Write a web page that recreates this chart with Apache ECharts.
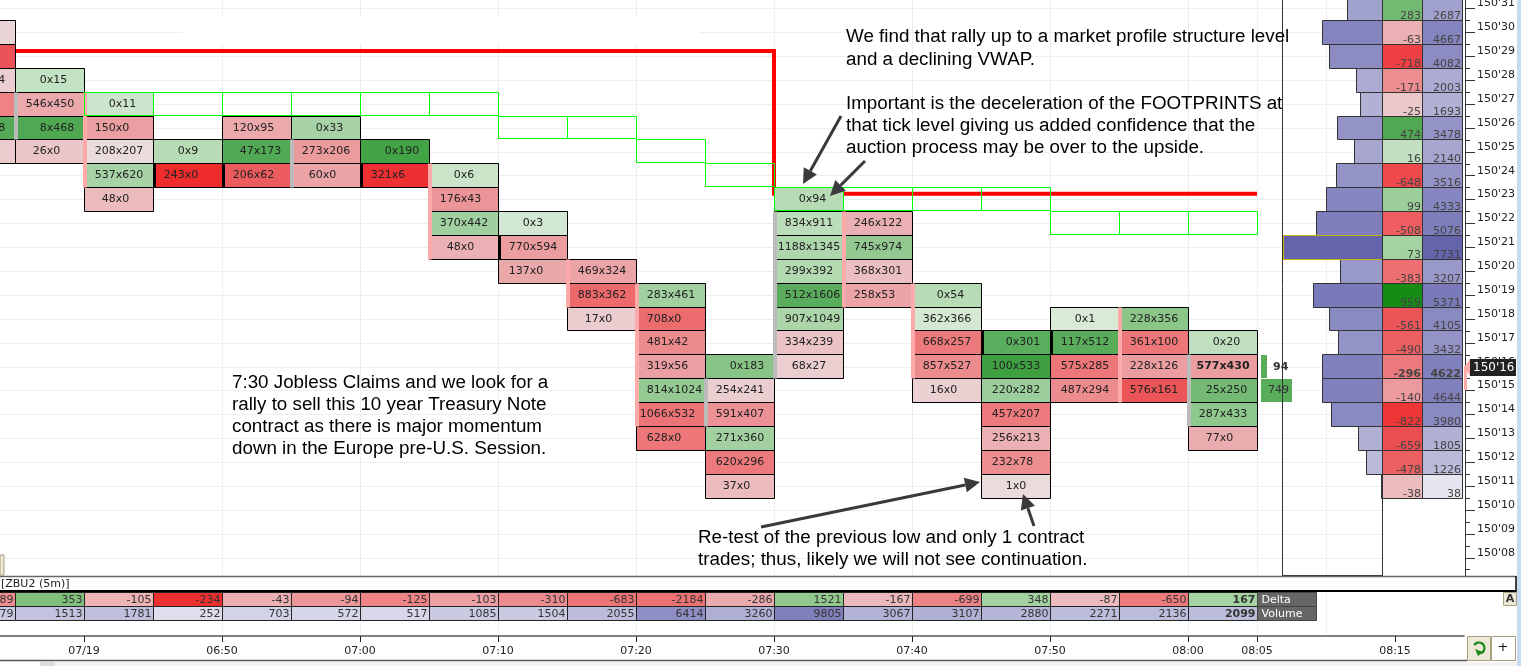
<!DOCTYPE html>
<html>
<head>
<meta charset="utf-8">
<title>ZBU2 footprint</title>
<style>
  html, body { margin: 0; padding: 0; background: #fff; }
  #chart { width: 1521px; height: 666px; }
</style>
</head>
<body>
<div id="chart"></div>
<script src="https://cdn.jsdelivr.net/npm/echarts@6/dist/echarts.min.js"></script>
<script>
// times are minutes after midnight (06:50 = 410), prices are ticks above 150'00
const barEnds = [395, 400, 405, 410, 415, 420, 425, 430, 435, 440, 445, 450, 455, 460, 465, 470, 475, 480, 485]
const barTops = [30, 28, 27, 25, 26, 26, 25, 24, 22, 20, 19, 16, 23, 22, 19, 17, 18, 18, 17]
const barCells = [
  ['0x8', '64x0', '271x194', '412x0', '308x418', '31x0'],
  ['0x15', '546x450', '8x468', '26x0'],
  ['0x11', '150x0', '208x207', '537x620', '48x0'],
  ['0x9', '243x0'],
  ['120x95', '47x173', '206x62'],
  ['0x33', '273x206', '60x0'],
  ['0x190', '321x6'],
  ['0x6', '176x43', '370x442', '48x0'],
  ['0x3', '770x594', '137x0'],
  ['469x324', '883x362', '17x0'],
  ['283x461', '708x0', '481x42', '319x56', '814x1024', '1066x532', '628x0'],
  ['0x183', '254x241', '591x407', '271x360', '620x296', '37x0'],
  ['0x94', '834x911', '1188x1345', '299x392', '512x1606', '907x1049', '334x239', '68x27'],
  ['246x122', '745x974', '368x301', '258x53'],
  ['0x54', '362x366', '668x257', '857x527', '16x0'],
  ['0x301', '100x533', '220x282', '457x207', '256x213', '232x78', '1x0'],
  ['0x1', '117x512', '575x285', '487x294'],
  ['228x356', '361x100', '228x126', '576x161'],
  ['0x20', '577x430', '25x250', '287x433', '77x0'],
]
// candle body of each bar: first and last tick row, and direction
const bodyHigh = [null, 27, 27, 24, 24, 25, 24, 24, 21, 20, 19, 15, 22, 22, 19, 17, 17, 18, 16]
const bodyLow = [null, 26, 24, 24, 24, 24, 24, 21, 21, 19, 14, 14, 16, 19, 16, 17, 17, 15, 14]
const bodyKind = [null, 'up', 'down', 'flat', 'flat', 'up', 'flat', 'down', 'flat', 'down', 'down', 'up', 'up', 'down', 'down', 'flat', 'flat', 'down', 'up']

const vwapEnds = [405, 410, 415, 420, 425, 430, 435, 440, 445, 450, 455, 460, 465, 470, 475, 480, 485]
const vwapTicks = [27, 27, 27, 27, 27, 27, 26, 26, 25, 24, 23, 23, 23, 23, 22, 22, 22]
const structureTimes = [395, 450, 450, 485]
const structureTicks = [29.23, 29.23, 23.25, 23.25]

const domTicks = [16, 15]
const domSizes = [94, 749]

const profileTicks = [31, 30, 29, 28, 27, 26, 25, 24, 23, 22, 21, 20, 19, 18, 17, 16, 15, 14, 13, 12, 11]
const profileDelta = [283, -63, -718, -171, -25, 474, 16, -648, 99, -508, 73, -383, 959, -561, -490, -296, -140, -822, -659, -478, -38]
const profileVolume = [2687, 4667, 4082, 2003, 1693, 3478, 2140, 3516, 4333, 5076, 7731, 3207, 5371, 4105, 3432, 4622, 4644, 3980, 1805, 1226, 38]
const currentTick = 16
const pocTick = 21

const barDelta = [-289, 353, -105, -234, -43, -94, -125, -103, -310, -683, -2184, -286, 1521, -167, -699, 348, -87, -650, 167]
const barVolume = [2779, 1513, 1781, 252, 703, 572, 517, 1085, 1504, 2055, 6414, 3260, 9805, 3067, 3107, 2880, 2271, 2136, 2099]
const rowNames = ['Delta', 'Volume']

const priceMin = 7
const priceMax = 32
const labelledTimes = [400, 410, 420, 430, 440, 450, 460, 470, 480, 485, 495]
const timeLabels = ['07/19', '06:50', '07:00', '07:10', '07:20', '07:30', '07:40', '07:50', '08:00', '08:05', '08:15']
const gridTimes = [410, 420, 430, 440, 450, 460, 470, 480, 485, 490]

// colours, same order as the lists above
const cellFills = [
  ['#EAD5D6', '#EC5358', '#EBCFD0', '#EE8284', '#55A957', '#EBCBCD'],
  ['#C4E2C4', '#EBA9AC', '#50A852', '#EBC6C8'],
  ['#CDE5CC', '#EC9FA2', '#EBDCDC', '#A8D3A6', '#EBBBBE'],
  ['#B7DBB5', '#EE2C2C'],
  ['#EBA9AC', '#52A954', '#EC5C5E'],
  ['#A7D2A6', '#EC9B9D', '#ECA4A6'],
  ['#42A445', '#EE3032'],
  ['#CBE4CA', '#EC9599', '#A0CFA0', '#EBB0B3'],
  ['#D3E8D2', '#EC9DA0', '#EBA8AB'],
  ['#ECA4A7', '#EC6A6C', '#EBCDCF'],
  ['#A2D0A0', '#EC6C6E', '#EC8B8E', '#EC9FA2', '#94CA92', '#EC7476', '#EC7678'],
  ['#88C486', '#EBCFD0', '#EC9296', '#A2D0A0', '#EC7A7C', '#EBBBBE'],
  ['#B7DBB5', '#BBDDB9', '#AFD7AD', '#B3D9B1', '#5AAD5C', '#ACD5AA', '#EBC3C6', '#EBCFD0'],
  ['#EBB0B3', '#93C991', '#EBBFC1', '#EBA4A7'],
  ['#B7DBB5', '#D4E8D2', '#EC7A7C', '#EC8C8F', '#EBD0D2'],
  ['#5AAD5C', '#3E9F41', '#9CCE9B', '#EC7A7C', '#EBB0B3', '#EC8D90', '#EBDCDC'],
  ['#D9EAD7', '#58AC5A', '#EC7678', '#EC8C8F'],
  ['#8BC689', '#EC7678', '#EC9DA0', '#EC5558'],
  ['#C0DFBE', '#EC9DA0', '#74BA74', '#8FC88D', '#EBACAF'],
]
const bodyColors = { up: '#BBBBBB', down: '#FFAAAA', flat: '#000000' }
const profileDeltaFills = ['#72BA72', '#EBB0B3', '#EF4044', '#EC8E90', '#EBC9CB', '#50A852', '#C3E1C1', '#EE4A4C', '#9CCE9A', '#EE5E60', '#A3D3A1', '#EE6F71', '#168C16', '#EC5558', '#EC5E60', '#EC7A7C', '#EC9A9D', '#EE3636', '#EC4F52', '#EC6062', '#EBBBBE']
const profileVolumeFills = ['#A1A1CE', '#8484BF', '#8C8CC3', '#ABABD3', '#B1B1D6', '#9393C7', '#A6A6D0', '#9393C7', '#8686C0', '#7E7EBC', '#6464AC', '#9898C9', '#7A7ABA', '#8A8AC2', '#9393C7', '#8080BD', '#8080BD', '#8A8AC2', '#B0B0D5', '#BABADA', '#E6E6F1']
const barDeltaFills = ['#EF8E8E', '#80BF7C', '#EEB3B5', '#EE2F2F', '#EDB0B2', '#EC9799', '#EE8486', '#ECA0A3', '#EC8C8F', '#EE7375', '#EE7274', '#EBAAAD', '#93C98F', '#EBB9BB', '#EC8486', '#A3D2A0', '#EBBBBD', '#EE7A7C', '#A5D4A2']
const barVolumeFills = ['#C9C9E2', '#C3C3DF', '#BFBFDC', '#DEDEED', '#D3D3E7', '#D6D6E9', '#D8D8EA', '#CACAE2', '#CACAE2', '#BDBDDB', '#8F8FC5', '#AFAFD4', '#7F7FBC', '#B2B2D6', '#B1B1D5', '#B6B6D8', '#BCBCDB', '#BCBCDB', '#BCBCDB']

const FONT = '11px "DejaVu Sans"'
const FONT_BOLD = 'bold 11px "DejaVu Sans"'
const TEXT = '#222'
const GRID = '#EEEEEE'
const snap = (v) => Math.floor(v) + 0.5

// grids share one scale: 13.8 px per minute, 23.875 px per tick
const gridLeft = -54
const mainTop = -15.25
const mainHeight = 596.875
const mainWidth = 1436

const chart = echarts.init(document.getElementById('chart'), null, { renderer: 'canvas' })

// rows of a bar counted down from its top price
const cellData = []
const bodyData = []
barEnds.forEach((end, b) => {
  barCells[b].forEach((label, r) => {
    cellData.push([end, barTops[b] - r, b, r])
  })
  if (bodyKind[b]) bodyData.push([end, bodyHigh[b], bodyLow[b], b])
})

function renderCell(params, api) {
  const end = api.value(0)
  const tick = api.value(1)
  const b = api.value(2)
  const r = api.value(3)
  const label = barCells[b][r]
  const tl = api.coord([end - 5, tick + 0.5])
  const br = api.coord([end, tick - 0.5])
  const x0 = snap(tl[0])
  const x1 = snap(br[0])
  const y0 = snap(tl[1])
  const y1 = snap(br[1])
  const bold = end === 485 && tick === currentTick
  const digit = bold ? 7.65 : 7
  const gap = bold ? 3.5 : 3.25
  const sellLen = label.indexOf('x')
  return {
    type: 'group',
    children: [
      {
        type: 'rect',
        shape: { x: x0, y: y0, width: x1 - x0, height: y1 - y0 },
        style: { fill: cellFills[b][r], stroke: '#000', lineWidth: 1 },
      },
      {
        type: 'text',
        style: {
          text: label,
          x: (x0 + x1) / 2 - sellLen * digit - gap,
          y: (y0 + y1) / 2,
          font: bold ? FONT_BOLD : FONT,
          fill: TEXT,
          align: 'left',
          verticalAlign: 'middle',
        },
      },
    ],
  }
}

function renderBody(params, api) {
  const end = api.value(0)
  const top = api.coord([end - 5, api.value(1) + 0.5])
  const bottom = api.coord([end - 5, api.value(2) - 0.5])
  const kind = bodyKind[api.value(3)]
  const x = Math.floor(top[0]) - (kind === 'flat' ? 0 : 1)
  return {
    type: 'rect',
    shape: { x, y: snap(top[1]), width: kind === 'flat' ? 3 : 4, height: snap(bottom[1]) - snap(top[1]) },
    style: { fill: bodyColors[kind] },
  }
}

function renderVwap(params, api) {
  const end = api.value(0)
  const tick = api.value(1)
  const tl = api.coord([end - 5, tick + 0.5])
  const br = api.coord([end, tick - 0.5])
  const y0 = snap(tl[1])
  const y1 = snap(br[1]) - 1
  return {
    type: 'rect',
    shape: { x: snap(tl[0]), y: y0, width: snap(br[0]) - snap(tl[0]), height: y1 - y0 },
    style: { fill: 'none', stroke: '#00FF00', lineWidth: 1 },
  }
}

function renderDom(params, api) {
  const tick = api.value(0)
  const size = api.value(1)
  const rowTop = api.coord([485, tick + 0.5])
  const rowBottom = api.coord([485, tick - 0.5])
  const left = rowTop[0] + 4
  const small = size < 100
  const w = small ? 6 : size * 0.0414
  return {
    type: 'group',
    children: [
      {
        type: 'rect',
        shape: { x: left, y: Math.floor(rowTop[1]) + 1, width: w, height: Math.floor(rowBottom[1]) - Math.floor(rowTop[1]) - 1 },
        style: { fill: '#58AC5A' },
      },
      {
        type: 'text',
        style: {
          text: String(size),
          x: small ? left + 12 : left + 7,
          y: (rowTop[1] + rowBottom[1]) / 2,
          font: small ? FONT_BOLD : FONT,
          fill: '#333',
          align: 'left',
          verticalAlign: 'middle',
        },
      },
    ],
  }
}

// histogram bars on the profile grid, its own inverse x axis scales the volume
function renderProfileBar(params, api) {
  const i = api.value(0)
  const tick = profileTicks[i]
  const tl = api.coord([profileVolume[i], tick + 0.5])
  const br = api.coord([0, tick - 0.5])
  const isPoc = tick === pocTick
  const x0 = snap(tl[0])
  const y0 = snap(tl[1])
  const y1 = snap(br[1])
  return {
    type: 'rect',
    z2: isPoc ? 1 : 0,
    shape: { x: x0, y: y0, width: snap(br[0]) - x0, height: y1 - y0 },
    style: { fill: profileVolumeFills[i], stroke: isPoc ? '#C8B400' : '#333', lineWidth: 1 },
  }
}

function renderProfileCols(params, api) {
  const i = api.value(0)
  const tick = profileTicks[i]
  const tl = api.coord([0, tick + 0.5])
  const br = api.coord([0, tick - 0.5])
  const x0 = snap(tl[0])
  const y0 = snap(tl[1])
  const y1 = snap(br[1])
  const font = tick === currentTick ? FONT_BOLD : FONT
  const colW = 40
  const cell = (x, fill, text) => [
    {
      type: 'rect',
      shape: { x, y: y0, width: colW, height: y1 - y0 },
      style: { fill, stroke: '#333', lineWidth: 1 },
    },
    {
      type: 'text',
      style: { text: String(text), x: x + colW - 1.5, y: y1 + 1, font, fill: '#444', align: 'right', verticalAlign: 'bottom' },
    },
  ]
  return {
    type: 'group',
    children: cell(x0, profileDeltaFills[i], profileDelta[i]).concat(cell(x0 + colW, profileVolumeFills[i], profileVolume[i])),
  }
}

function renderPanelCell(params, api) {
  const b = api.value(0)
  const row = api.value(1)
  const values = row === 0 ? barDelta : barVolume
  const fills = row === 0 ? barDeltaFills : barVolumeFills
  const end = barEnds[b]
  const tl = api.coord([end - 5, row])
  const br = api.coord([end, row + 1])
  const x0 = snap(tl[0])
  const x1 = snap(br[0])
  const y0 = snap(tl[1])
  const y1 = snap(br[1])
  return {
    type: 'group',
    children: [
      {
        type: 'rect',
        shape: { x: x0, y: y0, width: x1 - x0, height: y1 - y0 },
        style: { fill: fills[b], stroke: '#222', lineWidth: 1 },
      },
      {
        type: 'text',
        style: {
          text: String(values[b]),
          x: x1 - 2,
          y: (y0 + y1) / 2 + 0.5,
          font: end === 485 ? FONT_BOLD : FONT,
          fill: '#333',
          align: 'right',
          verticalAlign: 'middle',
        },
      },
    ],
  }
}

function renderRowName(params, api) {
  const row = api.value(0)
  const tl = api.coord([485, row])
  const br = api.coord([485, row + 1])
  const x0 = snap(tl[0])
  const y0 = snap(tl[1])
  const y1 = snap(br[1])
  return {
    type: 'group',
    children: [
      { type: 'rect', shape: { x: x0, y: y0, width: 59, height: y1 - y0 }, style: { fill: '#666', stroke: '#444', lineWidth: 1 } },
      {
        type: 'text',
        style: { text: rowNames[row], x: x0 + 4, y: (y0 + y1) / 2 + 0.5, font: FONT, fill: '#fff', align: 'left', verticalAlign: 'middle' },
      },
    ],
  }
}

// annotation arrows, tail and tip in screen pixels
const arrows = [
  [[841, 116], [803, 184]],
  [[865, 161], [830, 196]],
  [[761, 527], [980, 482]],
  [[1034, 526], [1023, 494]],
]

function arrowElements(tail, tip) {
  const ang = Math.atan2(tip[1] - tail[1], tip[0] - tail[0])
  const len = 15
  const half = 7.5
  const bx = tip[0] - Math.cos(ang) * len
  const by = tip[1] - Math.sin(ang) * len
  const nx = -Math.sin(ang) * half
  const ny = Math.cos(ang) * half
  return [
    {
      type: 'line',
      z: 60,
      shape: { x1: tail[0], y1: tail[1], x2: bx, y2: by },
      style: { stroke: '#3A3A3A', lineWidth: 3 },
    },
    {
      type: 'polygon',
      z: 60,
      shape: { points: [[tip[0], tip[1]], [bx + nx, by + ny], [bx - nx, by - ny]] },
      style: { fill: '#3A3A3A' },
    },
  ]
}

function note(text, x, y) {
  return {
    type: 'text',
    z: 60,
    x,
    y,
    style: { text, font: '18.8px "Liberation Sans"', fill: '#000', align: 'left', verticalAlign: 'middle' },
  }
}

const notes = [
  ['We find that rally up to a market profile structure level', 846, 37],
  ['and a declining VWAP.', 846, 60],
  ['Important is the deceleration of the FOOTPRINTS at', 846, 103.5],
  ['that tick level giving us added confidence that the', 846, 126],
  ['auction process may be over to the upside.', 846, 148],
  ['7:30 Jobless Claims and we look for a', 232, 382.5],
  ['rally to sell this 10 year Treasury Note', 232, 404.5],
  ['contract as there is major momentum', 232, 426.5],
  ['down in the Europe pre-U.S. Session.', 232, 448.5],
  ['Re-test of the previous low and only 1 contract', 698, 538],
  ['trades; thus, likely we will not see continuation.', 698, 560],
]

const rect = (x, y, width, height, fill, extra) => Object.assign(
  { type: 'rect', z: 50, shape: { x, y, width, height }, style: { fill } },
  extra || {},
)
const hline = (x1, x2, y, stroke, lineWidth) => ({
  type: 'line', z: 51, shape: { x1, y1: y, x2, y2: y }, style: { stroke, lineWidth },
})
const vline = (x, y1, y2, stroke, lineWidth) => ({
  type: 'line', z: 51, shape: { x1: x, y1, x2: x, y2 }, style: { stroke, lineWidth },
})

const chrome = [
  // blank text box that hides the grid above the red line
  rect(183, 16, 517, 27, '#fff', { z: 1 }),
  // panel frames
  vline(1282.5, 0, 575, '#333', 1),
  vline(1382.5, 0, 575, '#333', 1),
  hline(1282, 1383, 575.5, '#333', 1),
  rect(0, 576, 1516, 15, '#fff'),
  hline(0, 1516, 576.5, '#666', 1.5),
  hline(0, 1516, 591, '#000', 2),
  vline(1516, 576, 592, '#000', 1.5),
  { type: 'text', z: 52, x: 1, y: 584, style: { text: '[ZBU2 (5m)]', font: FONT, fill: '#222', align: 'left', verticalAlign: 'middle' } },
  // bottom of the time axis
  rect(0, 661, 1517, 5, '#fff'),
  hline(0, 1467, 660.5, '#555', 1.5),
  rect(40, 662, 15, 4, '#DDDDDD'),
  rect(55, 662, 1462, 4, '#F2F2F2'),
  // buttons
  rect(0, 555, 4, 20, '#ECE9D8', { style: { fill: '#ECE9D8', stroke: '#A89F7F', lineWidth: 1 } }),
  rect(1503.5, 592.5, 13, 13, '#ECE9D8', { style: { fill: '#ECE9D8', stroke: '#A89F7F', lineWidth: 1 } }),
  { type: 'text', z: 52, x: 1510, y: 599, style: { text: 'A', font: 'bold 11px "DejaVu Sans"', fill: '#333', align: 'center', verticalAlign: 'middle' } },
  rect(1467.5, 636.5, 23, 24, '#ECE9D8', { style: { fill: '#ECE9D8', stroke: '#A89F7F', lineWidth: 1 } }),
  rect(1491.5, 636.5, 24, 24, '#fff', { style: { fill: '#fff', stroke: '#A89F7F', lineWidth: 1 } }),
  { type: 'arc', z: 52, shape: { cx: 1479, cy: 648, r: 5.5, startAngle: -2.6, endAngle: 1.2 }, style: { stroke: '#1A8A1A', fill: 'none', lineWidth: 2.2 } },
  { type: 'polygon', z: 52, shape: { points: [[1475, 649], [1483, 652], [1478, 656]] }, style: { fill: '#1A8A1A' } },
  { type: 'text', z: 52, x: 1503, y: 647.5, style: { text: '+', font: '13px "DejaVu Sans"', fill: '#111', align: 'center', verticalAlign: 'middle' } },
  // current price tag
  rect(1464, 366, 3, 24, '#FFAAAA'),
  { type: 'polygon', z: 50, shape: { points: [[1464, 367], [1470, 359], [1470, 376]] }, style: { fill: '#FFAAAA' } },
  rect(1470, 359, 46, 17, '#222'),
  { type: 'text', z: 52, x: 1473, y: 367.5, style: { text: "150'16", font: '12px "DejaVu Sans"', fill: '#fff', align: 'left', verticalAlign: 'middle' } },
  // window edge
  rect(1517, 0, 4, 666, '#C6DAF2'),
]

const option = {
  animation: false,
  backgroundColor: '#fff',
  grid: [
    { outerBoundsMode: 'none', left: gridLeft, top: mainTop, width: mainWidth, height: mainHeight },
    { outerBoundsMode: 'none', left: 1283, top: mainTop, width: 99, height: mainHeight },
    { outerBoundsMode: 'none', left: gridLeft, top: 592.5, width: 1518, height: 42 },
  ],
  xAxis: [
    {
      gridIndex: 0,
      type: 'value',
      min: 390,
      max: 390 + mainWidth / 13.8,
      axisLine: { show: false },
      axisLabel: { show: false },
      axisTick: { show: false, customValues: gridTimes },
      splitLine: { show: true, lineStyle: { color: GRID, width: 1 } },
    },
    { gridIndex: 1, type: 'value', min: 0, max: 7731, inverse: true, show: false },
    {
      gridIndex: 2,
      type: 'value',
      position: 'bottom',
      offset: 1.5,
      min: 390,
      max: 500,
      axisLine: { show: true, onZero: false, lineStyle: { color: '#555', width: 1.5 } },
      axisTick: { show: true, length: 6, customValues: labelledTimes, lineStyle: { color: '#222' } },
      axisLabel: {
        show: true,
        customValues: labelledTimes,
        margin: 10,
        fontFamily: 'DejaVu Sans',
        fontSize: 11,
        color: TEXT,
        formatter: (v) => timeLabels[labelledTimes.indexOf(v)],
      },
      splitLine: { show: false },
    },
    {
      gridIndex: 2,
      type: 'value',
      min: 390,
      max: 500,
      axisLine: { show: false },
      axisLabel: { show: false },
      axisTick: { show: false, customValues: gridTimes },
      splitLine: { show: true, lineStyle: { color: GRID, width: 1 } },
    },
  ],
  yAxis: [
    {
      gridIndex: 0,
      type: 'value',
      position: 'right',
      offset: 83,
      min: priceMin,
      max: priceMax,
      interval: 1,
      axisLine: { show: true, lineStyle: { color: '#333', width: 1 } },
      axisTick: { show: true, length: 10, lineStyle: { color: '#333' } },
      minorTick: { show: true, splitNumber: 2, length: 5, lineStyle: { color: '#333' } },
      axisLabel: {
        margin: 12,
        fontFamily: 'DejaVu Sans',
        fontSize: 11,
        color: TEXT,
        verticalAlign: 'bottom',
        lineHeight: 10,
        formatter: (v) => (v === priceMin || v === priceMax ? '' : "150'" + String(v).padStart(2, '0')),
      },
      splitLine: { show: true, lineStyle: { color: GRID, width: 1 } },
    },
    { gridIndex: 1, type: 'value', min: priceMin, max: priceMax, show: false },
    { gridIndex: 2, type: 'value', inverse: true, min: 0, max: 3, show: false },
  ],
  series: [
    {
      type: 'line',
      xAxisIndex: 0,
      yAxisIndex: 0,
      z: 2,
      showSymbol: false,
      silent: true,
      data: structureTimes.map((t, i) => [t, structureTicks[i]]),
      lineStyle: { color: '#FF0000', width: 4, join: 'miter' },
    },
    {
      type: 'custom',
      xAxisIndex: 0,
      yAxisIndex: 0,
      z: 3,
      clip: false,
      silent: true,
      renderItem: renderCell,
      data: cellData,
    },
    {
      type: 'custom',
      xAxisIndex: 0,
      yAxisIndex: 0,
      z: 4,
      clip: false,
      silent: true,
      renderItem: renderBody,
      data: bodyData,
    },
    {
      type: 'custom',
      xAxisIndex: 0,
      yAxisIndex: 0,
      z: 5,
      clip: false,
      silent: true,
      renderItem: renderVwap,
      data: vwapEnds.map((e, i) => [e, vwapTicks[i]]),
    },
    {
      type: 'custom',
      xAxisIndex: 0,
      yAxisIndex: 0,
      z: 5,
      clip: false,
      silent: true,
      renderItem: renderDom,
      data: domTicks.map((t, i) => [t, domSizes[i]]),
    },
    {
      type: 'custom',
      xAxisIndex: 1,
      yAxisIndex: 1,
      z: 3,
      clip: false,
      silent: true,
      renderItem: renderProfileBar,
      data: profileTicks.map((t, i) => [i]),
    },
    {
      type: 'custom',
      xAxisIndex: 1,
      yAxisIndex: 1,
      z: 4,
      clip: false,
      silent: true,
      renderItem: renderProfileCols,
      data: profileTicks.map((t, i) => [i]),
    },
    {
      type: 'custom',
      xAxisIndex: 2,
      yAxisIndex: 2,
      z: 3,
      clip: false,
      silent: true,
      renderItem: renderPanelCell,
      data: barEnds.flatMap((e, b) => [[b, 0], [b, 1]]),
    },
    {
      type: 'custom',
      xAxisIndex: 2,
      yAxisIndex: 2,
      z: 3,
      clip: false,
      silent: true,
      renderItem: renderRowName,
      data: rowNames.map((n, i) => [i]),
    },
  ],
  graphic: {
    elements: chrome
      .concat(notes.map((n) => note(n[0], n[1], n[2])))
      .concat(arrows.flatMap((a) => arrowElements(a[0], a[1]))),
  },
}

chart.setOption(option)
</script>
</body>
</html>
